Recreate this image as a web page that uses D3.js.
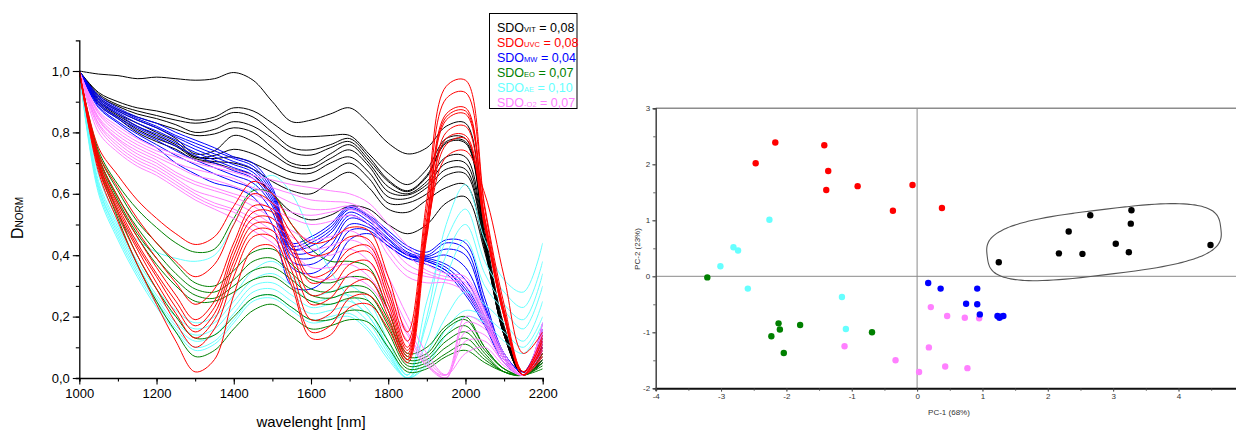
<!DOCTYPE html>
<html>
<head>
<meta charset="utf-8">
<script src="https://cdn.jsdelivr.net/npm/d3@7"></script>
<style>
  body { margin: 0; background: #fff; }
  svg { display: block; font-family: "Liberation Sans", Arial, sans-serif; }
</style>
</head>
<body>
<svg id="chart" width="1236" height="430"></svg>
<script>
// ---- spectra (normalised D) ------------------------------------------------
var WAVELENGTHS = [1000,1050,1100,1150,1200,1250,1300,1350,1400,1450,1500,1550,1600,1650,1700,1750,1800,1850,1900,1950,2000,2050,2100,2150,2200];

var SPECTRA_VIT = [
  [1.00,0.99,0.985,0.975,0.98,0.975,0.97,0.975,0.995,0.97,0.90,0.835,0.84,0.86,0.88,0.83,0.765,0.73,0.75,0.82,0.83,0.48,0.17,0.02,0.10],
  [1.00,0.93,0.90,0.88,0.87,0.855,0.84,0.85,0.88,0.87,0.83,0.79,0.786,0.79,0.79,0.73,0.667,0.63,0.68,0.78,0.78,0.46,0.16,0.02,0.08],
  [1.00,0.925,0.89,0.87,0.855,0.84,0.83,0.84,0.865,0.85,0.80,0.75,0.743,0.76,0.78,0.72,0.645,0.61,0.66,0.77,0.77,0.46,0.16,0.02,0.07],
  [1.00,0.92,0.885,0.86,0.845,0.825,0.80,0.81,0.835,0.82,0.78,0.735,0.726,0.75,0.77,0.71,0.64,0.607,0.655,0.765,0.765,0.45,0.15,0.02,0.06],
  [1.00,0.915,0.875,0.85,0.83,0.81,0.79,0.795,0.815,0.80,0.75,0.70,0.694,0.73,0.76,0.70,0.623,0.60,0.64,0.72,0.72,0.45,0.15,0.02,0.05],
  [1.00,0.91,0.87,0.84,0.815,0.78,0.73,0.74,0.79,0.77,0.73,0.69,0.683,0.715,0.743,0.69,0.607,0.596,0.63,0.70,0.70,0.44,0.15,0.01,0.06],
  [1.00,0.905,0.86,0.83,0.80,0.77,0.72,0.725,0.745,0.73,0.70,0.67,0.667,0.70,0.72,0.67,0.59,0.585,0.62,0.68,0.68,0.43,0.14,0.01,0.08],
  [1.00,0.90,0.855,0.82,0.79,0.76,0.72,0.715,0.72,0.70,0.67,0.645,0.64,0.67,0.70,0.65,0.57,0.57,0.60,0.66,0.665,0.43,0.14,0.01,0.10],
  [1.00,0.895,0.85,0.81,0.78,0.755,0.715,0.705,0.70,0.68,0.64,0.61,0.60,0.64,0.67,0.62,0.55,0.54,0.58,0.62,0.63,0.42,0.14,0.01,0.12],
  [1.00,0.89,0.845,0.80,0.77,0.745,0.71,0.70,0.68,0.66,0.60,0.54,0.515,0.53,0.56,0.55,0.50,0.47,0.50,0.57,0.59,0.41,0.14,0.01,0.05]
];

var SPECTRA_MW = [
  [1.0,0.92,0.88,0.85,0.83,0.80,0.775,0.75,0.72,0.70,0.62,0.44,0.46,0.50,0.56,0.53,0.48,0.43,0.41,0.45,0.44,0.26,0.08,0.02,0.16],
  [1.0,0.915,0.875,0.845,0.82,0.79,0.765,0.74,0.715,0.69,0.61,0.43,0.45,0.49,0.555,0.525,0.47,0.42,0.40,0.44,0.42,0.24,0.08,0.02,0.14],
  [1.0,0.91,0.87,0.84,0.815,0.785,0.755,0.73,0.705,0.68,0.60,0.42,0.44,0.48,0.55,0.52,0.465,0.41,0.395,0.42,0.40,0.23,0.07,0.01,0.18],
  [1.0,0.905,0.865,0.83,0.805,0.775,0.745,0.72,0.695,0.67,0.59,0.42,0.43,0.47,0.54,0.51,0.455,0.405,0.39,0.40,0.36,0.22,0.07,0.01,0.12],
  [1.0,0.90,0.86,0.82,0.795,0.765,0.735,0.71,0.685,0.66,0.58,0.41,0.41,0.45,0.53,0.50,0.45,0.40,0.39,0.37,0.32,0.20,0.07,0.01,0.10],
  [1.0,0.895,0.85,0.815,0.785,0.755,0.725,0.70,0.675,0.65,0.57,0.40,0.39,0.43,0.52,0.50,0.44,0.40,0.385,0.36,0.30,0.19,0.06,0.01,0.15],
  [1.0,0.89,0.845,0.805,0.775,0.74,0.71,0.685,0.66,0.635,0.56,0.38,0.37,0.41,0.50,0.49,0.44,0.40,0.38,0.35,0.29,0.18,0.06,0.01,0.11],
  [1.0,0.885,0.835,0.795,0.76,0.725,0.695,0.665,0.64,0.615,0.54,0.36,0.34,0.38,0.48,0.48,0.43,0.39,0.38,0.35,0.28,0.18,0.06,0.01,0.09],
  [1.0,0.88,0.83,0.785,0.75,0.70,0.665,0.635,0.62,0.59,0.50,0.30,0.29,0.34,0.45,0.47,0.43,0.39,0.37,0.34,0.27,0.17,0.05,0.01,0.13]
];

var SPECTRA_O2 = [
  [1.0,0.87,0.82,0.78,0.75,0.73,0.71,0.695,0.68,0.66,0.645,0.63,0.62,0.61,0.60,0.57,0.50,0.43,0.37,0.34,0.33,0.22,0.08,0.01,0.18],
  [1.0,0.865,0.81,0.77,0.74,0.72,0.70,0.685,0.67,0.65,0.62,0.60,0.58,0.575,0.57,0.54,0.47,0.40,0.35,0.33,0.32,0.21,0.07,0.01,0.15],
  [1.0,0.86,0.80,0.76,0.73,0.70,0.68,0.665,0.65,0.62,0.60,0.57,0.55,0.55,0.56,0.53,0.44,0.37,0.34,0.32,0.31,0.20,0.07,0.01,0.12],
  [1.0,0.85,0.79,0.75,0.72,0.69,0.66,0.645,0.625,0.60,0.57,0.54,0.53,0.54,0.55,0.52,0.42,0.35,0.33,0.32,0.30,0.19,0.06,0.01,0.14],
  [1.0,0.845,0.78,0.74,0.71,0.67,0.64,0.62,0.60,0.58,0.55,0.52,0.50,0.51,0.53,0.50,0.40,0.33,0.31,0.31,0.28,0.18,0.06,0.01,0.10],
  [1.0,0.84,0.775,0.73,0.70,0.66,0.63,0.61,0.59,0.56,0.52,0.48,0.45,0.46,0.48,0.44,0.33,0.20,0.08,0.01,0.08,0.10,0.04,0.01,0.16],
  [1.0,0.83,0.765,0.72,0.69,0.65,0.61,0.59,0.57,0.54,0.50,0.46,0.42,0.43,0.45,0.42,0.30,0.17,0.06,0.01,0.12,0.12,0.05,0.01,0.12],
  [1.0,0.825,0.755,0.71,0.68,0.64,0.60,0.57,0.55,0.52,0.48,0.44,0.40,0.40,0.42,0.38,0.27,0.15,0.05,0.00,0.15,0.14,0.05,0.01,0.09],
  [1.0,0.815,0.745,0.70,0.67,0.63,0.59,0.56,0.54,0.50,0.46,0.41,0.36,0.36,0.37,0.33,0.24,0.14,0.04,0.00,0.18,0.16,0.06,0.01,0.18],
  [1.0,0.80,0.735,0.69,0.66,0.62,0.58,0.55,0.52,0.48,0.44,0.38,0.33,0.32,0.33,0.30,0.22,0.12,0.04,0.01,0.20,0.17,0.06,0.01,0.07]
];

var SPECTRA_UVC = [
  [1.0,0.75,0.66,0.58,0.52,0.47,0.435,0.46,0.56,0.64,0.60,0.50,0.44,0.45,0.49,0.48,0.33,0.15,0.58,0.95,0.97,0.56,0.24,0.02,0.12],
  [1.0,0.73,0.62,0.52,0.44,0.38,0.33,0.37,0.50,0.60,0.57,0.47,0.40,0.41,0.46,0.45,0.30,0.12,0.55,0.91,0.93,0.55,0.22,0.02,0.09],
  [1.0,0.72,0.59,0.48,0.39,0.31,0.24,0.29,0.44,0.56,0.55,0.44,0.33,0.35,0.42,0.43,0.28,0.10,0.52,0.86,0.88,0.52,0.21,0.02,0.14],
  [1.0,0.71,0.57,0.46,0.36,0.27,0.19,0.25,0.42,0.54,0.54,0.43,0.31,0.33,0.40,0.41,0.26,0.09,0.50,0.85,0.87,0.51,0.20,0.01,0.11],
  [1.0,0.70,0.56,0.44,0.34,0.25,0.17,0.23,0.40,0.52,0.52,0.41,0.27,0.29,0.37,0.38,0.24,0.08,0.50,0.84,0.86,0.52,0.22,0.01,0.07],
  [1.0,0.70,0.55,0.43,0.33,0.23,0.15,0.21,0.38,0.50,0.50,0.38,0.24,0.26,0.34,0.35,0.22,0.07,0.48,0.78,0.79,0.50,0.21,0.01,0.10],
  [1.0,0.69,0.54,0.42,0.31,0.21,0.13,0.19,0.36,0.48,0.48,0.35,0.19,0.21,0.30,0.32,0.20,0.06,0.47,0.76,0.78,0.49,0.20,0.01,0.13],
  [1.0,0.68,0.53,0.40,0.29,0.18,0.10,0.16,0.33,0.46,0.46,0.32,0.15,0.17,0.26,0.27,0.18,0.06,0.48,0.72,0.74,0.60,0.33,0.08,0.15],
  [1.0,0.67,0.51,0.37,0.24,0.12,0.02,0.06,0.27,0.42,0.43,0.30,0.13,0.14,0.23,0.24,0.16,0.05,0.46,0.80,0.82,0.50,0.20,0.01,0.08]
];

var SPECTRA_EO = [
  [1.0,0.74,0.63,0.55,0.49,0.44,0.41,0.42,0.52,0.61,0.60,0.50,0.42,0.38,0.38,0.36,0.22,0.08,0.10,0.17,0.20,0.10,0.03,0.01,0.06],
  [1.0,0.73,0.61,0.51,0.44,0.37,0.31,0.30,0.35,0.41,0.42,0.37,0.32,0.31,0.33,0.32,0.22,0.07,0.08,0.16,0.19,0.10,0.03,0.01,0.05],
  [1.0,0.72,0.59,0.49,0.41,0.34,0.29,0.28,0.32,0.38,0.39,0.34,0.29,0.28,0.30,0.29,0.19,0.06,0.07,0.14,0.17,0.09,0.03,0.01,0.07],
  [1.0,0.72,0.58,0.47,0.39,0.32,0.27,0.26,0.30,0.35,0.36,0.32,0.27,0.26,0.28,0.27,0.17,0.05,0.06,0.12,0.15,0.08,0.02,0.01,0.04],
  [1.0,0.71,0.57,0.46,0.37,0.30,0.25,0.25,0.28,0.32,0.33,0.29,0.25,0.24,0.26,0.25,0.15,0.04,0.05,0.10,0.13,0.07,0.02,0.01,0.08],
  [1.0,0.70,0.54,0.40,0.29,0.20,0.13,0.14,0.20,0.26,0.27,0.23,0.19,0.19,0.22,0.21,0.12,0.03,0.04,0.08,0.11,0.06,0.02,0.01,0.05],
  [1.0,0.69,0.52,0.37,0.25,0.15,0.07,0.09,0.16,0.22,0.24,0.20,0.16,0.17,0.19,0.18,0.10,0.02,0.03,0.07,0.09,0.05,0.02,0.01,0.03]
];

var SPECTRA_AE = [
  [1.0,0.66,0.52,0.45,0.41,0.39,0.38,0.40,0.50,0.62,0.66,0.60,0.47,0.35,0.26,0.20,0.10,0.01,0.20,0.50,0.63,0.45,0.32,0.28,0.44],
  [1.0,0.64,0.50,0.38,0.29,0.22,0.18,0.20,0.27,0.35,0.38,0.33,0.27,0.28,0.30,0.25,0.12,0.01,0.25,0.45,0.55,0.38,0.28,0.23,0.38],
  [1.0,0.63,0.49,0.37,0.27,0.20,0.16,0.18,0.25,0.32,0.34,0.30,0.25,0.26,0.27,0.22,0.10,0.01,0.18,0.40,0.50,0.34,0.24,0.19,0.34],
  [1.0,0.62,0.48,0.36,0.26,0.18,0.14,0.16,0.23,0.30,0.31,0.27,0.23,0.24,0.25,0.20,0.09,0.00,0.12,0.33,0.45,0.30,0.22,0.16,0.30],
  [1.0,0.62,0.47,0.35,0.25,0.17,0.12,0.14,0.21,0.28,0.29,0.25,0.21,0.22,0.23,0.18,0.08,0.00,0.08,0.20,0.28,0.24,0.18,0.12,0.25],
  [1.0,0.61,0.46,0.34,0.24,0.16,0.10,0.12,0.19,0.26,0.27,0.23,0.19,0.20,0.21,0.16,0.07,0.00,0.05,0.16,0.22,0.20,0.15,0.10,0.20],
  [1.0,0.60,0.45,0.33,0.23,0.15,0.09,0.11,0.18,0.25,0.26,0.22,0.18,0.19,0.20,0.15,0.06,0.00,0.04,0.14,0.20,0.18,0.12,0.08,0.18]
];

// ---- legend ----------------------------------------------------------------
var LEGEND_SUBS = ["VIT", "UVC", "MW", "EO", "AE", "-O2"];
var LEGEND_SDO = ["0,08", "0,08", "0,04", "0,07", "0,10", "0,07"];
var GROUP_COLOURS = ["#000000", "#ff0000", "#0000ff", "#008000", "#66ffff", "#ff80ff"];

// ---- PCA scores (right panel) ----------------------------------------------
var PCA_VIT = [[1.25,0.25],[2.17,0.41],[2.32,0.80],[2.53,0.40],[2.65,1.09],[3.04,0.58],[3.24,0.43],[3.27,0.94],[3.28,1.18],[4.49,0.56]];
var PCA_UVC = [[-2.17,2.39],[-2.47,2.02],[-1.42,2.34],[-1.36,1.88],[-1.39,1.54],[-0.91,1.61],[-0.07,1.63],[-0.37,1.17],[0.38,1.22]];
var PCA_MW = [[0.17,-0.12],[0.36,-0.22],[0.92,-0.22],[0.75,-0.49],[0.92,-0.50],[0.96,-0.68],[1.23,-0.71],[1.26,-0.74],[1.32,-0.71],[1.28,-0.72]];
var PCA_EO = [[-3.21,-0.02],[-2.12,-0.84],[-2.10,-0.95],[-2.23,-1.07],[-1.79,-0.87],[-2.04,-1.37],[-0.69,-1.00]];
var PCA_AE = [[-2.26,1.01],[-2.81,0.52],[-2.74,0.46],[-3.01,0.18],[-2.59,-0.22],[-1.15,-0.37],[-1.09,-0.94]];
var PCA_O2 = [[-1.11,-1.25],[-0.33,-1.50],[0.03,-1.71],[0.21,-0.55],[0.18,-1.27],[0.46,-0.71],[0.73,-0.74],[0.95,-0.75],[0.43,-1.61],[0.77,-1.64]];
var PCA_X_TICKS = [-4, -3, -2, -1, 0, 1, 2, 3, 4];
var PCA_Y_TICKS = [-2, -1, 0, 1, 2, 3];
// cluster outline around the VIT scores: centre, half-length, half-width (data units), tilt (deg)
var CLUSTER = { cx: 2.86, cy: 0.61, a: 1.80, b: 0.58, tilt: -7, power: 3.1 };

var svg = d3.select("#chart");

// ============================ LEFT PANEL ======================================
var xSpec = d3.scaleLinear().domain([1000, 2200]).range([79.3, 542.7]);
var ySpec = d3.scaleLinear().domain([0, 1.1]).range([378, 40.3]);

svg.append("clipPath").attr("id", "specClip")
  .append("rect")
    .attr("x", xSpec(1000)).attr("y", ySpec(1.1))
    .attr("width", xSpec(2200) - xSpec(1000))
    .attr("height", ySpec(0) - ySpec(1.1) + 0.5);

var specLine = d3.line()
  .x(function (d, i) { return xSpec(WAVELENGTHS[i]); })
  .y(function (d) { return ySpec(d); })
  .curve(d3.curveCatmullRom.alpha(0.5));

var specGroups = [
  { data: SPECTRA_VIT, colour: GROUP_COLOURS[0] },
  { data: SPECTRA_MW, colour: GROUP_COLOURS[2] },
  { data: SPECTRA_AE, colour: GROUP_COLOURS[4] },
  { data: SPECTRA_EO, colour: GROUP_COLOURS[3] },
  { data: SPECTRA_O2, colour: GROUP_COLOURS[5] },
  { data: SPECTRA_UVC, colour: GROUP_COLOURS[1] }
];

var specG = svg.append("g").attr("clip-path", "url(#specClip)");
specGroups.forEach(function (grp) {
  specG.append("g")
    .selectAll("path")
    .data(grp.data)
    .enter().append("path")
      .attr("d", specLine)
      .attr("fill", "none")
      .attr("stroke", grp.colour)
      .attr("stroke-width", 1);
});

// axes
var fmtComma = function (d) { return d.toFixed(1).replace(".", ","); };

var yAxisG = svg.append("g")
  .attr("transform", "translate(" + xSpec(1000) + ",0)")
  .call(d3.axisLeft(ySpec).tickValues(d3.range(0, 11).map(function (i) { return i / 10; })).tickSize(3.5).tickFormat(""));
yAxisG.append("g")
  .call(d3.axisLeft(ySpec).tickValues([0, 0.2, 0.4, 0.6, 0.8, 1.0]).tickSize(6.5).tickPadding(3).tickFormat(fmtComma))
  .select(".domain").remove();

var xAxisG = svg.append("g")
  .attr("transform", "translate(0," + ySpec(0) + ")")
  .call(d3.axisBottom(xSpec).tickValues(d3.range(1000, 2201, 100)).tickSize(3.5).tickFormat(""));
xAxisG.append("g")
  .call(d3.axisBottom(xSpec).tickValues(d3.range(1000, 2201, 200)).tickSize(6.5).tickPadding(4).tickFormat(d3.format("d")))
  .select(".domain").remove();

[yAxisG, xAxisG].forEach(function (g) {
  g.selectAll(".domain").attr("stroke", "#000").attr("stroke-width", 1.3);
  g.selectAll("line").attr("stroke", "#000").attr("stroke-width", 1.1);
  g.selectAll("text").style("font-size", "13px").attr("fill", "#000");
});

svg.append("text")
  .attr("x", (xSpec(1000) + xSpec(2200)) / 2)
  .attr("y", 427)
  .attr("text-anchor", "middle")
  .style("font-size", "15px")
  .text("wavelenght [nm]");

var yTitle = svg.append("text")
  .attr("transform", "translate(23," + 218 + ") rotate(-90)")
  .attr("text-anchor", "middle")
  .style("font-size", "16px");
yTitle.append("tspan").text("D");
yTitle.append("tspan").style("font-size", "10px").text("NORM");

// legend
var legend = svg.append("g");
legend.append("rect")
  .attr("x", 489.5).attr("y", 13.5)
  .attr("width", 87.5).attr("height", 95)
  .attr("fill", "#fff").attr("stroke", "#000").attr("stroke-width", 1);

LEGEND_SUBS.forEach(function (sub, i) {
  var t = legend.append("text")
    .attr("x", 497)
    .attr("y", 32 + i * 15)
    .attr("fill", GROUP_COLOURS[i])
    .style("font-size", "12.5px");
  t.append("tspan").text("SDO");
  t.append("tspan").style("font-size", "7.5px").text(sub);
  t.append("tspan").text(" = " + LEGEND_SDO[i]);
});

// ============================ RIGHT PANEL =====================================
var xPca = d3.scaleLinear().domain([-4, 5]).range([655.7, 655.7 + 9 * 65.35]);
var yPca = d3.scaleLinear().domain([-2, 3]).range([388.3, 108.3]);

// zero lines
svg.append("line")
  .attr("x1", xPca(-4)).attr("x2", xPca(5))
  .attr("y1", yPca(0)).attr("y2", yPca(0))
  .attr("stroke", "#8a8a8a").attr("stroke-width", 1);
svg.append("line")
  .attr("x1", xPca(0)).attr("x2", xPca(0))
  .attr("y1", yPca(3)).attr("y2", yPca(-2))
  .attr("stroke", "#8a8a8a").attr("stroke-width", 1);

// frame: grey top, dark left and bottom
svg.append("line")
  .attr("x1", xPca(-4)).attr("x2", xPca(5))
  .attr("y1", yPca(3)).attr("y2", yPca(3))
  .attr("stroke", "#8c8c8c").attr("stroke-width", 1.6);

var pcaX = svg.append("g")
  .attr("transform", "translate(0," + yPca(-2) + ")")
  .call(d3.axisBottom(xPca).tickValues(d3.range(-4, 5.01, 0.5)).tickSize(2.5).tickFormat(""));
pcaX.append("g")
  .call(d3.axisBottom(xPca).tickValues(PCA_X_TICKS).tickSize(3.5).tickPadding(1.5).tickFormat(function (d) { return String(d); }))
  .select(".domain").remove();
pcaX.select(".domain").attr("stroke", "#111").attr("stroke-width", 2);

var pcaY = svg.append("g")
  .attr("transform", "translate(" + xPca(-4) + ",0)")
  .call(d3.axisLeft(yPca).tickValues(d3.range(-2, 3.01, 0.5)).tickSize(2.5).tickFormat(""));
pcaY.append("g")
  .call(d3.axisLeft(yPca).tickValues(PCA_Y_TICKS).tickSize(3.5).tickPadding(2).tickFormat(function (d) { return String(d); }))
  .select(".domain").remove();
pcaY.select(".domain").attr("stroke", "#444").attr("stroke-width", 1.5);

[pcaX, pcaY].forEach(function (g) {
  g.selectAll("line").attr("stroke", "#444").attr("stroke-width", 0.8);
  g.selectAll("text").style("font-size", "8px").attr("fill", "#333");
});

svg.append("text")
  .attr("x", 949).attr("y", 415)
  .attr("text-anchor", "middle")
  .attr("fill", "#333")
  .style("font-size", "8px")
  .text("PC-1 (68%)");

svg.append("text")
  .attr("transform", "translate(639.5," + 249 + ") rotate(-90)")
  .attr("text-anchor", "middle")
  .attr("fill", "#333")
  .style("font-size", "8px")
  .text("PC-2 (23%)");

// cluster outline (superellipse, tilted)
var cxPx = xPca(CLUSTER.cx), cyPx = yPca(CLUSTER.cy);
var halfLen = xPca(CLUSTER.cx + CLUSTER.a) - cxPx;
var halfWid = yPca(CLUSTER.cy - CLUSTER.b) - cyPx;
var tiltRad = CLUSTER.tilt * Math.PI / 180;
var outline = d3.range(0, 360, 3).map(function (deg) {
  var t = deg * Math.PI / 180;
  var c = Math.cos(t), s = Math.sin(t);
  var u = Math.sign(c) * Math.pow(Math.abs(c), 2 / CLUSTER.power) * halfLen;
  var v = Math.sign(s) * Math.pow(Math.abs(s), 2 / CLUSTER.power) * halfWid;
  return [cxPx + u * Math.cos(tiltRad) - v * Math.sin(tiltRad),
          cyPx + u * Math.sin(tiltRad) + v * Math.cos(tiltRad)];
});
svg.append("path")
  .attr("d", d3.line().curve(d3.curveCardinalClosed)(outline))
  .attr("fill", "none")
  .attr("stroke", "#555")
  .attr("stroke-width", 1.1);

var pcaGroups = [
  { data: PCA_UVC, colour: GROUP_COLOURS[1] },
  { data: PCA_AE, colour: GROUP_COLOURS[4] },
  { data: PCA_EO, colour: GROUP_COLOURS[3] },
  { data: PCA_O2, colour: GROUP_COLOURS[5] },
  { data: PCA_MW, colour: GROUP_COLOURS[2] },
  { data: PCA_VIT, colour: GROUP_COLOURS[0] }
];
pcaGroups.forEach(function (grp) {
  svg.append("g")
    .selectAll("circle")
    .data(grp.data)
    .enter().append("circle")
      .attr("cx", function (d) { return xPca(d[0]); })
      .attr("cy", function (d) { return yPca(d[1]); })
      .attr("r", 3.2)
      .attr("fill", grp.colour);
});
</script>
</body>
</html>
